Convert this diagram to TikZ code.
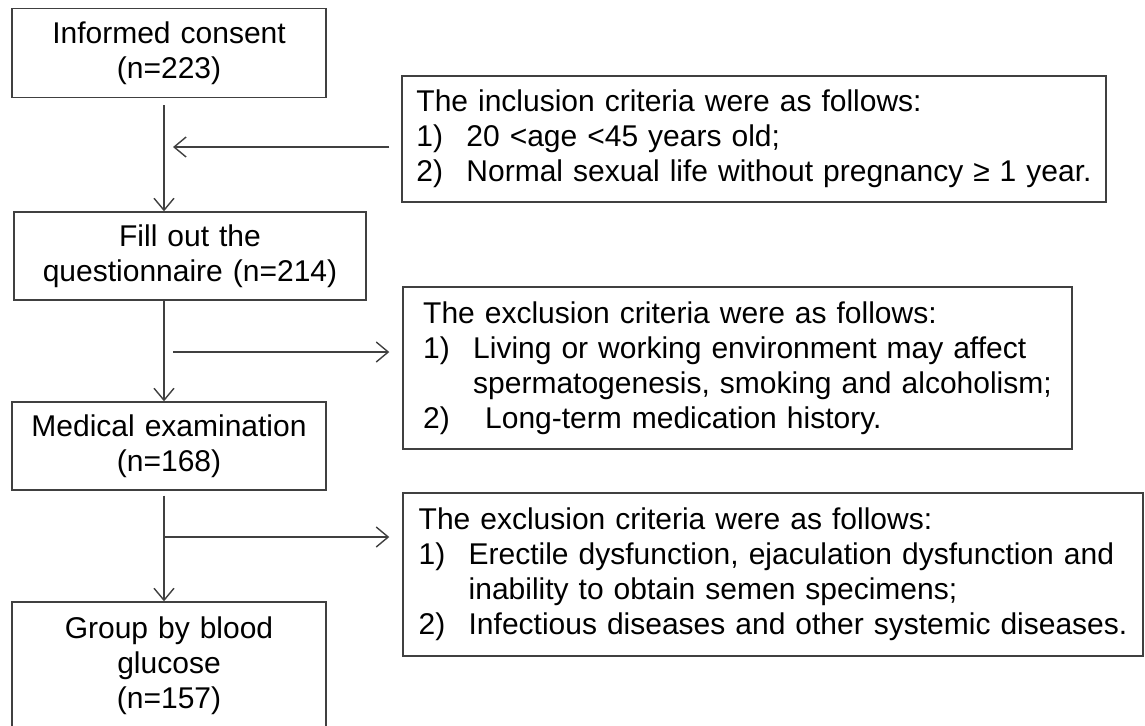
\documentclass[tikz,border=0pt]{standalone}
\usepackage{fontspec}
\setmainfont{Liberation Sans}[WordSpace=1.2]
\usetikzlibrary{arrows.meta}
\newcommand\spinex{164}
\newcommand\itm[1]{\makebox[25pt][l]{#1}}
\newcommand\cont{\hspace*{25pt}}

\begin{document}
\begin{tikzpicture}[x=0.5pt, y=-0.5pt, font=\fontsize{15pt}{17.5pt}\selectfont,
    stage/.style={rectangle, draw=black!75, line width=0.7pt, align=center, inner sep=0pt},
    crit/.style={rectangle, draw=black!75, line width=0.7pt, align=left, inner sep=0pt},
    arr/.style={draw=black!75, line width=0.7pt, -{Straight Barb[length=6pt,width=10pt]}}]
    \useasboundingbox (0,0) rectangle (1145,725);

    \node at (169,53) [stage, minimum width=157pt, minimum height=44.5pt] (consent) {Informed consent\\(n=223)};
    \node at (190,256) [stage, minimum width=176pt, minimum height=44pt] (quest) {Fill out the\\questionnaire (n=214)};
    \node at (169,446) [stage, minimum width=157pt, minimum height=44pt] (exam) {Medical examination\\(n=168)};
    \node at (169,666) [stage, minimum width=157pt, minimum height=64pt] (group) {Group by blood\\glucose\\(n=157)};

    %Inclusion
    \node at (754,139) [crit, minimum width=352pt, minimum height=63pt] (incl) {The inclusion criteria were as follows:\\
        \itm{1)}20 <age <45 years old;\\
        \itm{2)}Normal sexual life without pregnancy ≥ 1 year.};
    %Exclusion 1
    \node at (737.5,368) [crit, minimum width=334.5pt, minimum height=81pt] (excl1) {The exclusion criteria were as follows:\\
        \itm{1)}Living or working environment may affect\\
        \cont spermatogenesis, smoking and alcoholism;\\
        \itm{2)}\hspace*{6pt}Long-term medication history.};
    %Exclusion 2
    \node at (773,574.5) [crit, minimum width=370pt, minimum height=81.5pt] (excl2) {The exclusion criteria were as follows:\\
        \itm{1)}Erectile dysfunction, ejaculation dysfunction and\\
        \cont inability to obtain semen specimens;\\
        \itm{2)}Infectious diseases and other systemic diseases.};

    \coordinate (spine) at (\spinex,0);
    \coordinate (j1) at (\spinex,147);
    \coordinate (j2) at (\spinex,352);
    \coordinate (j3) at (\spinex,537);

    %main flow
    \draw[arr, shorten <=3.5pt] (consent.south -| spine) -- (quest.north -| spine);
    \draw[arr] (quest.south -| spine) -- (exam.north -| spine);
    \draw[arr, shorten <=2.5pt] (exam.south -| spine) -- (group.north -| spine);

    %side arrows
    \draw[arr, shorten <=6pt, shorten >=4.5pt] (incl.west |- j1) -- (j1);
    \draw[arr, shorten <=4.5pt, shorten >=6.5pt] (j2) -- (excl1.west |- j2);
    \draw[arr, shorten >=6.5pt] (j3) -- (excl2.west |- j3);
\end{tikzpicture}
\end{document}
